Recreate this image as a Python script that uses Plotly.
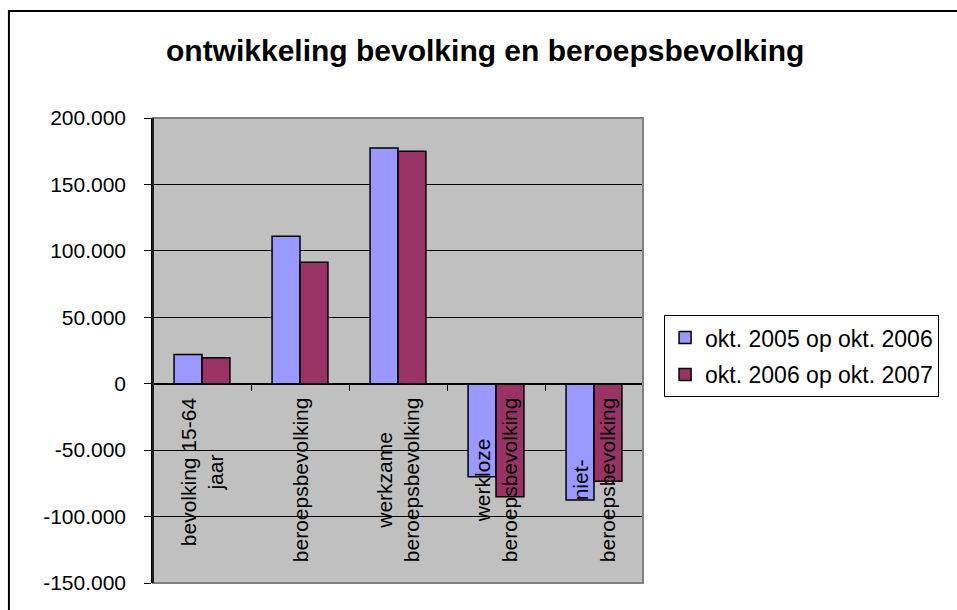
import plotly.graph_objects as go

# categorieen en waarden (verschil in aantallen personen)
categorieen = ['bevolking 15-64<br>jaar', 'beroepsbevolking', 'werkzame<br>beroepsbevolking',
               'werkloze<br>beroepsbevolking', 'niet-<br>beroepsbevolking']
okt_2005_2006 = [22000, 111000, 177500, -70000, -87500]
okt_2006_2007 = [19500, 91500, 175000, -85000, -73500]

y_ticks = [200000, 150000, 100000, 50000, 0, -50000, -100000, -150000]
y_ticklabels = ['200.000', '150.000', '100.000', '50.000', '0', '-50.000', '-100.000', '-150.000']
y_min, y_max = -150000, 200000

fnt = 'Liberation Sans, Arial, sans-serif'

fig = go.Figure()

fig.add_trace(go.Bar(
    name='okt. 2005 op okt. 2006',
    x=list(range(len(categorieen))),
    y=okt_2005_2006,
    marker=dict(color='#9999FF', line=dict(color='black', width=1.5)),
    legendgroup='a',
))
fig.add_trace(go.Bar(
    name='okt. 2006 op okt. 2007',
    x=list(range(len(categorieen))),
    y=okt_2006_2007,
    marker=dict(color='#993366', line=dict(color='black', width=1.5)),
    legendgroup='b',
))

# categorie-labels verticaal, net onder de nullijn
for i, lab in enumerate(categorieen):
    fig.add_annotation(
        x=i, y=0, xref='x', yref='y',
        text=lab, textangle=-90, align='center',
        xanchor='center', yanchor='top', yshift=-12,
        showarrow=False,
        font=dict(family=fnt, size=21, color='black'),
    )

# rand van het plotvlak en de kader rond de grafiek
fig.add_shape(type='rect', xref='paper', yref='paper', x0=0, x1=1, y0=0, y1=1,
              line=dict(color='#808080', width=2), layer='above')
fig.add_shape(type='line', xref='paper', yref='paper', x0=0, x1=0, y0=0, y1=1,
              line=dict(color='black', width=1.5), layer='above')
fig.add_shape(type='rect', xref='paper', yref='paper', x0=-0.294, x1=2, y0=-0.2, y1=1.23,
              line=dict(color='black', width=2))

zero_pos = (0 - y_min) / (y_max - y_min)

fig.update_layout(
    width=957, height=610,
    margin=dict(l=153, r=314, t=118, b=27),
    paper_bgcolor='white',
    plot_bgcolor='#C0C0C0',
    barmode='group',
    bargap=0.43,
    bargroupgap=0,
    title=dict(
        text='<b>ontwikkeling bevolking en beroepsbevolking</b>',
        x=0.678, xref='paper', xanchor='center',
        y=1 - 50 / 610, yref='container', yanchor='middle',
        font=dict(family=fnt, size=30, color='black'),
    ),
    legend=dict(
        x=1.043, y=0.576, xanchor='left', yanchor='top',
        bgcolor='white', bordercolor='black', borderwidth=1,
        font=dict(family=fnt, size=23, color='black'),
        traceorder='grouped', tracegroupgap=4,
    ),
    showlegend=True,
)

fig.update_xaxes(
    type='linear', range=[-0.5, len(categorieen) - 0.5],
    showgrid=False, zeroline=False,
    showticklabels=False,
    tickvals=[i + 0.5 for i in range(len(categorieen))],
    ticks='outside', ticklen=7, tickcolor='black', tickwidth=1,
    showline=True, linecolor='black', linewidth=1.5,
    anchor='free', position=zero_pos,
)

fig.update_yaxes(
    range=[y_min, y_max],
    tickvals=y_ticks, ticktext=y_ticklabels,
    tickfont=dict(family=fnt, size=21, color='black'),
    ticks='outside', ticklen=7, tickcolor='black', tickwidth=1,
    ticklabelstandoff=14,
    showgrid=True, gridcolor='black', gridwidth=1,
    zeroline=False,
    showline=True, linecolor='black', linewidth=1.5,
)

fig.write_html('out.html', config={'displayModeBar': False},
               post_script="document.body.style.margin='0';")
